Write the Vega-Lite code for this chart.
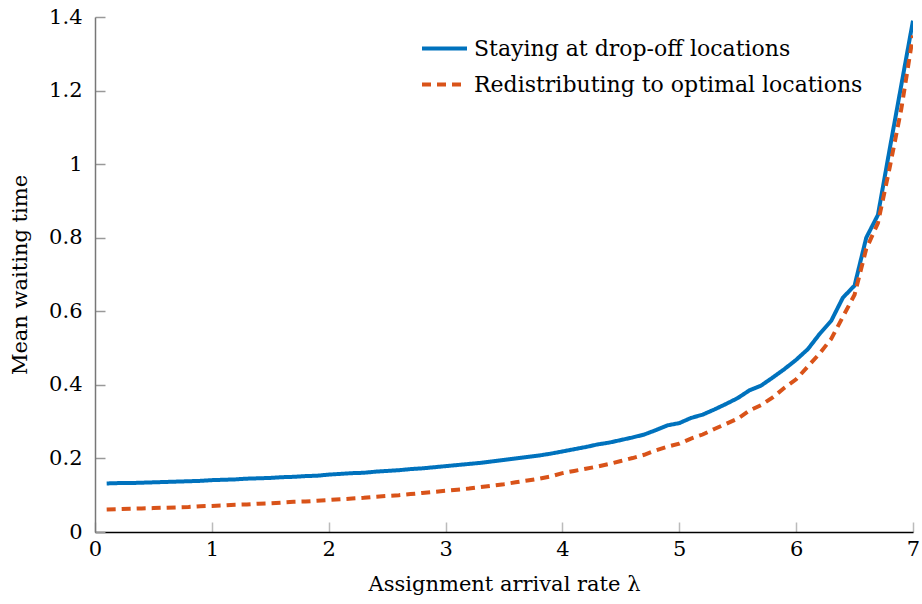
{
  "$schema": "https://vega.github.io/schema/vega-lite/v6.json",
  "width": 818,
  "height": 515,
  "autosize": {"type": "none"},
  "padding": {"left": 95, "top": 17, "right": 9, "bottom": 72},
  "background": "white",
  "config": {
    "view": {"stroke": null},
    "font": "DejaVu Serif",
    "axis": {"grid": false, "labelFont": "DejaVu Serif", "titleFont": "DejaVu Serif", "labelColor": "#000", "titleColor": "#000", "titleFontWeight": "normal"}
  },
  "datasets": {
    "series": [
      {"rate": 0.1, "wait": 0.132, "policy": "Staying at drop-off locations"},
      {"rate": 0.2, "wait": 0.133, "policy": "Staying at drop-off locations"},
      {"rate": 0.3, "wait": 0.133, "policy": "Staying at drop-off locations"},
      {"rate": 0.4, "wait": 0.134, "policy": "Staying at drop-off locations"},
      {"rate": 0.5, "wait": 0.135, "policy": "Staying at drop-off locations"},
      {"rate": 0.6, "wait": 0.136, "policy": "Staying at drop-off locations"},
      {"rate": 0.7, "wait": 0.137, "policy": "Staying at drop-off locations"},
      {"rate": 0.8, "wait": 0.138, "policy": "Staying at drop-off locations"},
      {"rate": 0.9, "wait": 0.139, "policy": "Staying at drop-off locations"},
      {"rate": 1.0, "wait": 0.141, "policy": "Staying at drop-off locations"},
      {"rate": 1.1, "wait": 0.142, "policy": "Staying at drop-off locations"},
      {"rate": 1.2, "wait": 0.143, "policy": "Staying at drop-off locations"},
      {"rate": 1.3, "wait": 0.145, "policy": "Staying at drop-off locations"},
      {"rate": 1.4, "wait": 0.146, "policy": "Staying at drop-off locations"},
      {"rate": 1.5, "wait": 0.147, "policy": "Staying at drop-off locations"},
      {"rate": 1.6, "wait": 0.149, "policy": "Staying at drop-off locations"},
      {"rate": 1.7, "wait": 0.150, "policy": "Staying at drop-off locations"},
      {"rate": 1.8, "wait": 0.152, "policy": "Staying at drop-off locations"},
      {"rate": 1.9, "wait": 0.153, "policy": "Staying at drop-off locations"},
      {"rate": 2.0, "wait": 0.156, "policy": "Staying at drop-off locations"},
      {"rate": 2.1, "wait": 0.158, "policy": "Staying at drop-off locations"},
      {"rate": 2.2, "wait": 0.160, "policy": "Staying at drop-off locations"},
      {"rate": 2.3, "wait": 0.161, "policy": "Staying at drop-off locations"},
      {"rate": 2.4, "wait": 0.164, "policy": "Staying at drop-off locations"},
      {"rate": 2.5, "wait": 0.166, "policy": "Staying at drop-off locations"},
      {"rate": 2.6, "wait": 0.168, "policy": "Staying at drop-off locations"},
      {"rate": 2.7, "wait": 0.171, "policy": "Staying at drop-off locations"},
      {"rate": 2.8, "wait": 0.173, "policy": "Staying at drop-off locations"},
      {"rate": 2.9, "wait": 0.176, "policy": "Staying at drop-off locations"},
      {"rate": 3.0, "wait": 0.179, "policy": "Staying at drop-off locations"},
      {"rate": 3.1, "wait": 0.182, "policy": "Staying at drop-off locations"},
      {"rate": 3.2, "wait": 0.185, "policy": "Staying at drop-off locations"},
      {"rate": 3.3, "wait": 0.188, "policy": "Staying at drop-off locations"},
      {"rate": 3.4, "wait": 0.192, "policy": "Staying at drop-off locations"},
      {"rate": 3.5, "wait": 0.196, "policy": "Staying at drop-off locations"},
      {"rate": 3.6, "wait": 0.200, "policy": "Staying at drop-off locations"},
      {"rate": 3.7, "wait": 0.204, "policy": "Staying at drop-off locations"},
      {"rate": 3.8, "wait": 0.208, "policy": "Staying at drop-off locations"},
      {"rate": 3.9, "wait": 0.213, "policy": "Staying at drop-off locations"},
      {"rate": 4.0, "wait": 0.219, "policy": "Staying at drop-off locations"},
      {"rate": 4.1, "wait": 0.225, "policy": "Staying at drop-off locations"},
      {"rate": 4.2, "wait": 0.231, "policy": "Staying at drop-off locations"},
      {"rate": 4.3, "wait": 0.238, "policy": "Staying at drop-off locations"},
      {"rate": 4.4, "wait": 0.243, "policy": "Staying at drop-off locations"},
      {"rate": 4.5, "wait": 0.250, "policy": "Staying at drop-off locations"},
      {"rate": 4.6, "wait": 0.257, "policy": "Staying at drop-off locations"},
      {"rate": 4.7, "wait": 0.265, "policy": "Staying at drop-off locations"},
      {"rate": 4.8, "wait": 0.277, "policy": "Staying at drop-off locations"},
      {"rate": 4.9, "wait": 0.290, "policy": "Staying at drop-off locations"},
      {"rate": 5.0, "wait": 0.296, "policy": "Staying at drop-off locations"},
      {"rate": 5.1, "wait": 0.310, "policy": "Staying at drop-off locations"},
      {"rate": 5.2, "wait": 0.319, "policy": "Staying at drop-off locations"},
      {"rate": 5.3, "wait": 0.333, "policy": "Staying at drop-off locations"},
      {"rate": 5.4, "wait": 0.348, "policy": "Staying at drop-off locations"},
      {"rate": 5.5, "wait": 0.364, "policy": "Staying at drop-off locations"},
      {"rate": 5.6, "wait": 0.385, "policy": "Staying at drop-off locations"},
      {"rate": 5.7, "wait": 0.398, "policy": "Staying at drop-off locations"},
      {"rate": 5.8, "wait": 0.420, "policy": "Staying at drop-off locations"},
      {"rate": 5.9, "wait": 0.443, "policy": "Staying at drop-off locations"},
      {"rate": 6.0, "wait": 0.468, "policy": "Staying at drop-off locations"},
      {"rate": 6.1, "wait": 0.497, "policy": "Staying at drop-off locations"},
      {"rate": 6.2, "wait": 0.538, "policy": "Staying at drop-off locations"},
      {"rate": 6.3, "wait": 0.574, "policy": "Staying at drop-off locations"},
      {"rate": 6.4, "wait": 0.637, "policy": "Staying at drop-off locations"},
      {"rate": 6.5, "wait": 0.670, "policy": "Staying at drop-off locations"},
      {"rate": 6.6, "wait": 0.800, "policy": "Staying at drop-off locations"},
      {"rate": 6.7, "wait": 0.862, "policy": "Staying at drop-off locations"},
      {"rate": 6.8, "wait": 1.040, "policy": "Staying at drop-off locations"},
      {"rate": 6.9, "wait": 1.215, "policy": "Staying at drop-off locations"},
      {"rate": 7.0, "wait": 1.390, "policy": "Staying at drop-off locations"},
      {"rate": 0.1, "wait": 0.061, "policy": "Redistributing to optimal locations"},
      {"rate": 0.2, "wait": 0.062, "policy": "Redistributing to optimal locations"},
      {"rate": 0.3, "wait": 0.063, "policy": "Redistributing to optimal locations"},
      {"rate": 0.4, "wait": 0.064, "policy": "Redistributing to optimal locations"},
      {"rate": 0.5, "wait": 0.065, "policy": "Redistributing to optimal locations"},
      {"rate": 0.6, "wait": 0.066, "policy": "Redistributing to optimal locations"},
      {"rate": 0.7, "wait": 0.067, "policy": "Redistributing to optimal locations"},
      {"rate": 0.8, "wait": 0.068, "policy": "Redistributing to optimal locations"},
      {"rate": 0.9, "wait": 0.070, "policy": "Redistributing to optimal locations"},
      {"rate": 1.0, "wait": 0.071, "policy": "Redistributing to optimal locations"},
      {"rate": 1.1, "wait": 0.072, "policy": "Redistributing to optimal locations"},
      {"rate": 1.2, "wait": 0.074, "policy": "Redistributing to optimal locations"},
      {"rate": 1.3, "wait": 0.075, "policy": "Redistributing to optimal locations"},
      {"rate": 1.4, "wait": 0.077, "policy": "Redistributing to optimal locations"},
      {"rate": 1.5, "wait": 0.078, "policy": "Redistributing to optimal locations"},
      {"rate": 1.6, "wait": 0.080, "policy": "Redistributing to optimal locations"},
      {"rate": 1.7, "wait": 0.082, "policy": "Redistributing to optimal locations"},
      {"rate": 1.8, "wait": 0.083, "policy": "Redistributing to optimal locations"},
      {"rate": 1.9, "wait": 0.085, "policy": "Redistributing to optimal locations"},
      {"rate": 2.0, "wait": 0.087, "policy": "Redistributing to optimal locations"},
      {"rate": 2.1, "wait": 0.089, "policy": "Redistributing to optimal locations"},
      {"rate": 2.2, "wait": 0.091, "policy": "Redistributing to optimal locations"},
      {"rate": 2.3, "wait": 0.093, "policy": "Redistributing to optimal locations"},
      {"rate": 2.4, "wait": 0.096, "policy": "Redistributing to optimal locations"},
      {"rate": 2.5, "wait": 0.098, "policy": "Redistributing to optimal locations"},
      {"rate": 2.6, "wait": 0.100, "policy": "Redistributing to optimal locations"},
      {"rate": 2.7, "wait": 0.103, "policy": "Redistributing to optimal locations"},
      {"rate": 2.8, "wait": 0.106, "policy": "Redistributing to optimal locations"},
      {"rate": 2.9, "wait": 0.109, "policy": "Redistributing to optimal locations"},
      {"rate": 3.0, "wait": 0.112, "policy": "Redistributing to optimal locations"},
      {"rate": 3.1, "wait": 0.115, "policy": "Redistributing to optimal locations"},
      {"rate": 3.2, "wait": 0.118, "policy": "Redistributing to optimal locations"},
      {"rate": 3.3, "wait": 0.122, "policy": "Redistributing to optimal locations"},
      {"rate": 3.4, "wait": 0.126, "policy": "Redistributing to optimal locations"},
      {"rate": 3.5, "wait": 0.130, "policy": "Redistributing to optimal locations"},
      {"rate": 3.6, "wait": 0.135, "policy": "Redistributing to optimal locations"},
      {"rate": 3.7, "wait": 0.140, "policy": "Redistributing to optimal locations"},
      {"rate": 3.8, "wait": 0.145, "policy": "Redistributing to optimal locations"},
      {"rate": 3.9, "wait": 0.151, "policy": "Redistributing to optimal locations"},
      {"rate": 4.0, "wait": 0.160, "policy": "Redistributing to optimal locations"},
      {"rate": 4.1, "wait": 0.166, "policy": "Redistributing to optimal locations"},
      {"rate": 4.2, "wait": 0.172, "policy": "Redistributing to optimal locations"},
      {"rate": 4.3, "wait": 0.178, "policy": "Redistributing to optimal locations"},
      {"rate": 4.4, "wait": 0.185, "policy": "Redistributing to optimal locations"},
      {"rate": 4.5, "wait": 0.193, "policy": "Redistributing to optimal locations"},
      {"rate": 4.6, "wait": 0.201, "policy": "Redistributing to optimal locations"},
      {"rate": 4.7, "wait": 0.210, "policy": "Redistributing to optimal locations"},
      {"rate": 4.8, "wait": 0.222, "policy": "Redistributing to optimal locations"},
      {"rate": 4.9, "wait": 0.232, "policy": "Redistributing to optimal locations"},
      {"rate": 5.0, "wait": 0.240, "policy": "Redistributing to optimal locations"},
      {"rate": 5.1, "wait": 0.254, "policy": "Redistributing to optimal locations"},
      {"rate": 5.2, "wait": 0.265, "policy": "Redistributing to optimal locations"},
      {"rate": 5.3, "wait": 0.280, "policy": "Redistributing to optimal locations"},
      {"rate": 5.4, "wait": 0.294, "policy": "Redistributing to optimal locations"},
      {"rate": 5.5, "wait": 0.308, "policy": "Redistributing to optimal locations"},
      {"rate": 5.6, "wait": 0.330, "policy": "Redistributing to optimal locations"},
      {"rate": 5.7, "wait": 0.345, "policy": "Redistributing to optimal locations"},
      {"rate": 5.8, "wait": 0.366, "policy": "Redistributing to optimal locations"},
      {"rate": 5.9, "wait": 0.392, "policy": "Redistributing to optimal locations"},
      {"rate": 6.0, "wait": 0.415, "policy": "Redistributing to optimal locations"},
      {"rate": 6.1, "wait": 0.450, "policy": "Redistributing to optimal locations"},
      {"rate": 6.2, "wait": 0.485, "policy": "Redistributing to optimal locations"},
      {"rate": 6.3, "wait": 0.525, "policy": "Redistributing to optimal locations"},
      {"rate": 6.4, "wait": 0.585, "policy": "Redistributing to optimal locations"},
      {"rate": 6.5, "wait": 0.645, "policy": "Redistributing to optimal locations"},
      {"rate": 6.6, "wait": 0.770, "policy": "Redistributing to optimal locations"},
      {"rate": 6.7, "wait": 0.840, "policy": "Redistributing to optimal locations"},
      {"rate": 6.8, "wait": 0.990, "policy": "Redistributing to optimal locations"},
      {"rate": 6.9, "wait": 1.150, "policy": "Redistributing to optimal locations"},
      {"rate": 7.0, "wait": 1.350, "policy": "Redistributing to optimal locations"}
    ]
  },
  "data": {"name": "series"},
  "mark": {"type": "line", "strokeWidth": 4, "clip": true},
  "encoding": {
    "x": {
      "field": "rate", "type": "quantitative",
      "scale": {"domain": [0, 7], "nice": false, "zero": false},
      "axis": {
        "title": "Assignment arrival rate λ",
        "values": [0, 1, 2, 3, 4, 5, 6, 7],
        "format": "d",
        "labelFontSize": 21, "titleFontSize": 21,
        "tickSize": -10, "tickColor": "#bbbbbb", "tickWidth": 1.5,
        "domainColor": "#000000", "domainWidth": 1.5,
        "labelPadding": 16, "titlePadding": 14,
        "labelFlush": false
      }
    },
    "y": {
      "field": "wait", "type": "quantitative",
      "scale": {"domain": [0, 1.4], "nice": false},
      "axis": {
        "title": "Mean waiting time",
        "values": [0, 0.2, 0.4, 0.6, 0.8, 1, 1.2, 1.4],
        "format": "~g",
        "labelFontSize": 21, "titleFontSize": 21,
        "tickSize": -10, "tickColor": "#999999", "tickWidth": 1.5,
        "domainColor": "#777777", "domainWidth": 1.5,
        "labelPadding": 23, "titlePadding": 18,
        "labelFlush": false
      }
    },
    "color": {
      "field": "policy", "type": "nominal",
      "scale": {"domain": ["Staying at drop-off locations", "Redistributing to optimal locations"], "range": ["#0072BD", "#D95319"]},
      "legend": {
        "title": null, "orient": "none", "legendX": 325, "legendY": 7,
        "symbolType": "stroke", "symbolSize": 2025, "symbolStrokeWidth": 4,
        "labelFontSize": 22, "labelFont": "DejaVu Serif", "labelColor": "#000",
        "rowPadding": -1, "labelOffset": 5, "labelLimit": 600
      }
    },
    "strokeDash": {
      "field": "policy", "type": "nominal",
      "scale": {"domain": ["Staying at drop-off locations", "Redistributing to optimal locations"], "range": [[1, 0], [9, 6]]},
      "legend": null
    }
  }
}
